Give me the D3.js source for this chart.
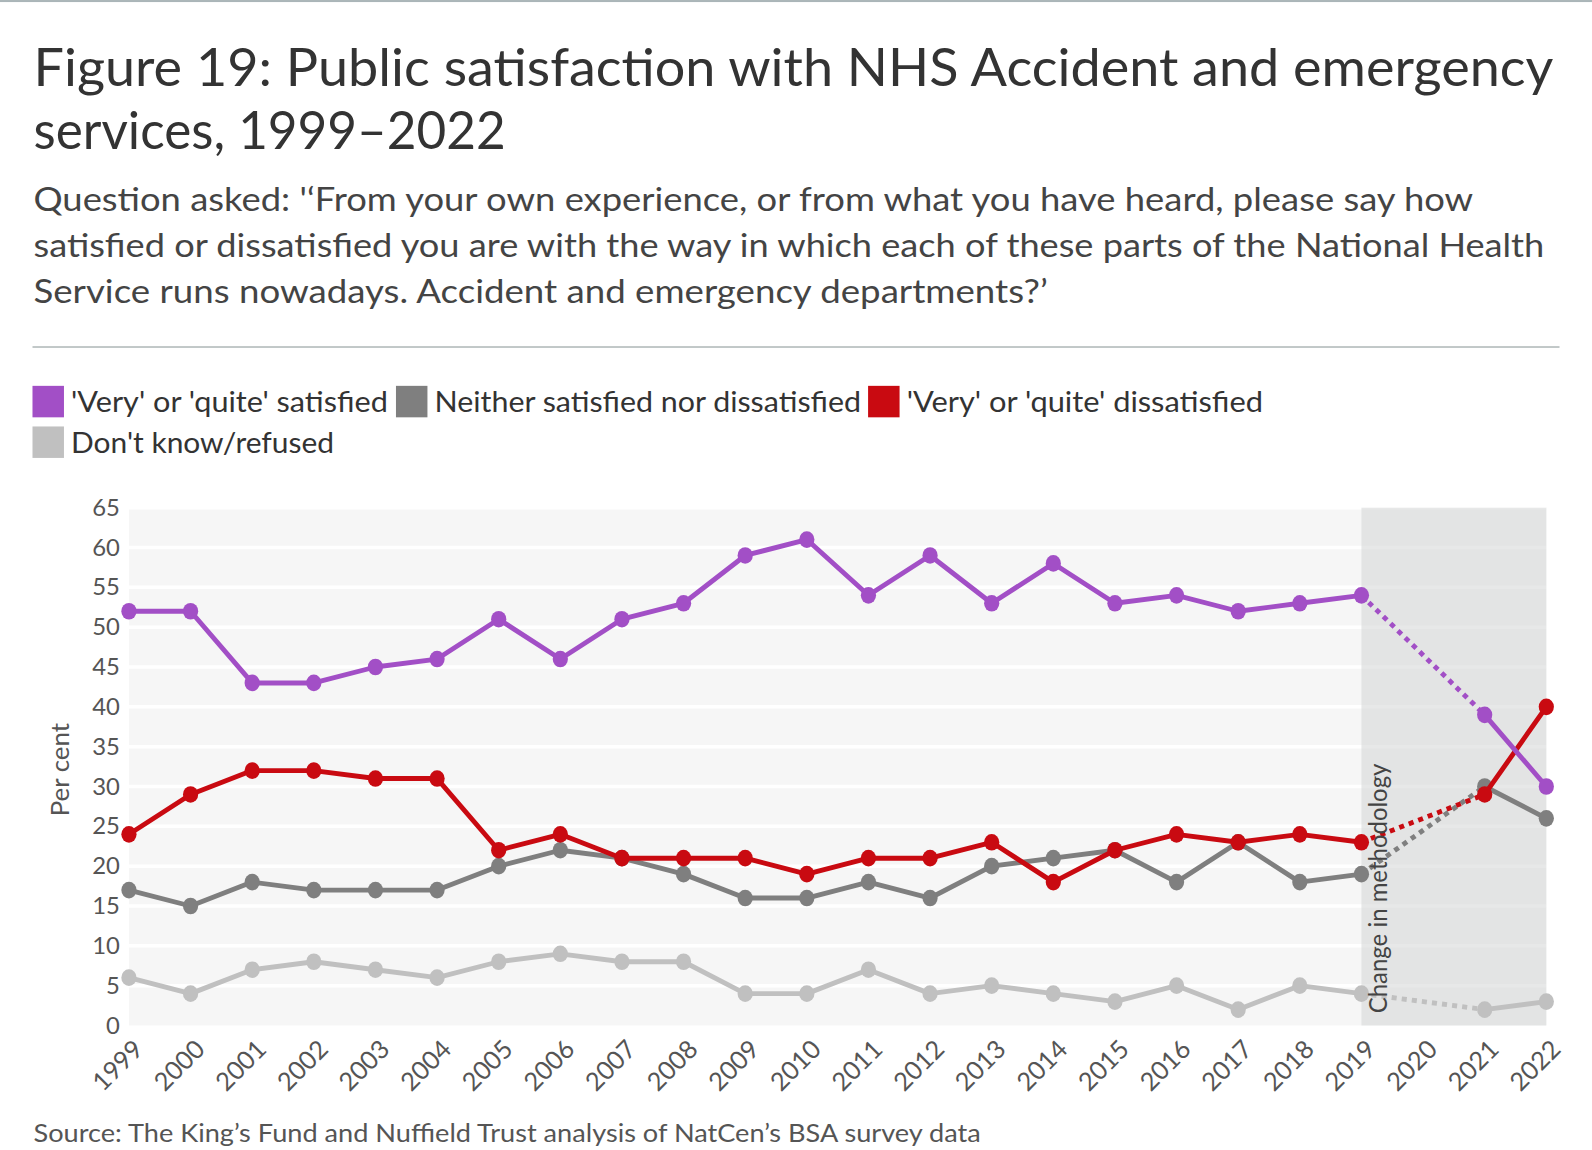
<!DOCTYPE html>
<html>
<head>
<meta charset="utf-8">
<script src="https://cdn.jsdelivr.net/npm/d3@7"></script>
<style>
  body { margin: 0; background: #fff; }
  svg { display: block; font-family: Lato, "Noto Sans", sans-serif; }
</style>
</head>
<body>
<svg width="1592" height="1150" viewBox="0 0 1568 1132.6"></svg>
<script>
const svg = d3.select('svg');

// data
const years = ['1999','2000','2001','2002','2003','2004','2005','2006','2007','2008','2009','2010',
               '2011','2012','2013','2014','2015','2016','2017','2018','2019','2020','2021','2022'];
const satisfied    = [52,52,43,43,45,46,51,46,51,53,59,61,54,59,53,58,53,54,52,53,54,null,39,30];
const neither      = [17,15,18,17,17,17,20,22,21,19,16,16,18,16,20,21,22,18,23,18,19,null,30,26];
const dissatisfied = [24,29,32,32,31,31,22,24,21,21,21,19,21,21,23,18,22,24,23,24,23,null,29,40];
const dontKnow     = [6,4,7,8,7,6,8,9,8,8,4,4,7,4,5,4,3,5,2,5,4,null,2,3];
const yTicks = [0,5,10,15,20,25,30,35,40,45,50,55,60,65];
const seriesNames = ["'Very' or 'quite' satisfied", "Neither satisfied nor dissatisfied",
                     "'Very' or 'quite' dissatisfied", "Don't know/refused"];
const breakFrom = '2019', breakTo = '2021';

const colors = ['#a24fc6', '#7f7f7f', '#c90a11', '#c0c0c0'];
const series = [dontKnow, neither, dissatisfied, satisfied]; // draw order
const seriesColor = [colors[3], colors[1], colors[2], colors[0]];

// squeeze text to a measured width, the reference font is narrow
let fit = (sel, w) => {
    sel.each(function(){
        this.setAttribute('textLength', w);
        this.setAttribute('lengthAdjust', 'spacingAndGlyphs');
    });
    return sel;
}

// top border and header
svg.append('rect').attr('x', 0).attr('y', 0).attr('width', 1568).attr('height', 2).style('fill', '#aab5b8');

const titleLines = ['Figure 19: Public satisfaction with NHS Accident and emergency', 'services, 1999\u20132022'];
const titleW = [1497, 465];
titleLines.forEach((t, i) => {
    fit(svg.append('text').attr('x', 33).attr('y', 85 + i * 62)
        .style('font-size', '52px').style('fill', '#333').text(t), titleW[i]);
});

const subLines = ["Question asked: '\u2018From your own experience, or from what you have heard, please say how",
                  'satisfied or dissatisfied you are with the way in which each of these parts of the National Health',
                  'Service runs nowadays. Accident and emergency departments?\u2019'];
const subW = [1418, 1488, 999];
subLines.forEach((t, i) => {
    fit(svg.append('text').attr('x', 33).attr('y', 208 + i * 45)
        .style('font-size', '33px').style('fill', '#444').text(t), subW[i]);
});

svg.append('rect').attr('x', 32).attr('y', 341).attr('width', 1504).attr('height', 1.5).style('fill', '#b0b8b8');

// legend
const legendPos = [[32, 380], [390, 380], [855, 380], [32, 420]];
const legendW = [312, 420, 351, 259];
seriesNames.forEach((n, i) => {
    let g = svg.append('g').attr('transform', 'translate(' + legendPos[i][0] + ',' + legendPos[i][1] + ')');
    g.append('rect').attr('width', 31).attr('height', 31).style('fill', colors[i]);
    fit(g.append('text').attr('x', 38).attr('y', 26).style('font-size', '29px').style('fill', '#333').text(n), legendW[i]);
});

// chart
const plot = {left: 127, right: 1523, top: 500, bottom: 1010};
const xScale = d3.scalePoint().domain(years).range([plot.left, plot.right]);
const yScale = d3.scaleLinear().domain([0, 65]).range([plot.bottom, plot.top]);

const chart = svg.append('g');
chart.append('rect')
    .attr('x', plot.left).attr('y', plot.top)
    .attr('width', plot.right - plot.left).attr('height', plot.bottom - plot.top)
    .style('fill', '#f6f6f6');

chart.selectAll('.grid')
    .data(yTicks.slice(1))
    .enter().append('line')
    .attr('class', 'grid')
    .attr('x1', plot.left).attr('x2', plot.right)
    .attr('y1', d => yScale(d)).attr('y2', d => yScale(d))
    .style('stroke', '#fff').style('stroke-width', 3.5);

// methodology change band
chart.append('rect')
    .attr('x', xScale(breakFrom)).attr('y', plot.top)
    .attr('width', plot.right - xScale(breakFrom)).attr('height', plot.bottom - plot.top)
    .style('fill', '#d3d6d6').style('opacity', 0.55);

// axes
let yAxis = d3.axisLeft(yScale).tickValues(yTicks).tickSize(0).tickPadding(9);
let ya = chart.append('g').attr('class', 'y-axis').attr('transform', 'translate(' + plot.left + ',0)').call(yAxis);
ya.select('.domain').remove();
ya.selectAll('text').style('font-size', '23.5px').style('fill', '#555').style('font-family', 'Lato, sans-serif');

let xAxis = d3.axisBottom(xScale).tickSize(0).tickPadding(0);
let xa = chart.append('g').attr('class', 'x-axis').attr('transform', 'translate(0,' + plot.bottom + ')').call(xAxis);
xa.select('.domain').remove();
xa.selectAll('text')
    .style('font-size', '25px').style('fill', '#555').style('font-family', 'Lato, sans-serif')
    .attr('text-anchor', 'end')
    .attr('dy', 0).attr('y', 0)
    .attr('transform', 'translate(15,25) rotate(-45)');

fit(svg.append('text')
    .attr('transform', 'translate(68,' + (yScale(32.5) + 3) + ') rotate(-90)')
    .attr('text-anchor', 'middle')
    .style('font-size', '24px').style('fill', '#555')
    .text('Per cent'), 92);

// lines
const line = d3.line()
    .defined(d => d.v !== null)
    .x(d => xScale(d.year))
    .y(d => yScale(d.v));

series.forEach((vals, i) => {
    let pts = years.map((y, j) => ({year: y, v: vals[j]}));
    let g = chart.append('g');
    g.append('path')
        .datum(pts)
        .attr('d', line)
        .style('fill', 'none').style('stroke', seriesColor[i]).style('stroke-width', 4.8)
        .style('stroke-linejoin', 'round');
    let gap = [pts[years.indexOf(breakFrom)], pts[years.indexOf(breakTo)]];
    g.append('path')
        .datum(gap)
        .attr('d', line)
        .style('fill', 'none').style('stroke', seriesColor[i]).style('stroke-width', 4.8)
        .style('stroke-dasharray', '5,5');
    g.selectAll('.dot')
        .data(pts.filter(d => d.v !== null))
        .enter().append('ellipse')
        .attr('class', 'dot')
        .attr('cx', d => xScale(d.year)).attr('cy', d => yScale(d.v))
        .attr('rx', 7.5).attr('ry', 8.2)
        .style('fill', seriesColor[i]);
});

fit(chart.append('text')
    .attr('transform', 'translate(' + (xScale(breakFrom) + 25) + ',' + (plot.bottom - 12) + ') rotate(-90)')
    .style('font-size', '24px').style('fill', '#444')
    .text('Change in methodology'), 246);

fit(svg.append('text').attr('x', 33).attr('y', 1125)
    .style('font-size', '24px').style('fill', '#555')
    .text('Source: The King\u2019s Fund and Nuffield Trust analysis of NatCen\u2019s BSA survey data'), 933);
</script>
</body>
</html>
